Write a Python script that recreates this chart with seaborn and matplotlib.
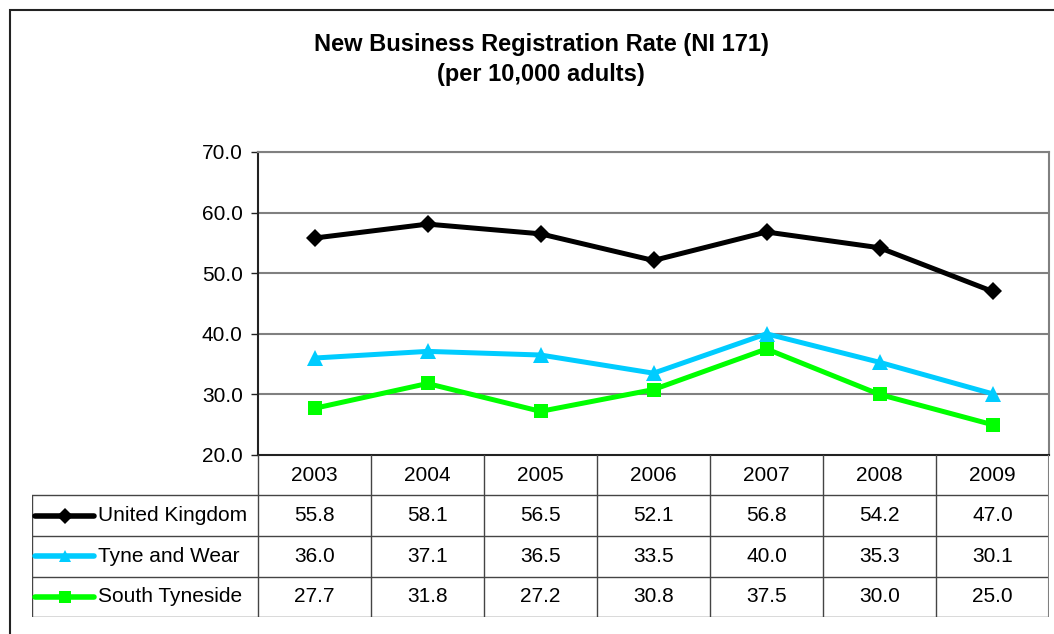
import matplotlib
matplotlib.use("Agg")
import matplotlib.pyplot as plt
import matplotlib.patches as mpatches
import seaborn as sns
import pandas as pd

years = ["2003", "2004", "2005", "2006", "2007", "2008", "2009"]
series_names = ["United Kingdom", "Tyne and Wear", "South Tyneside"]
uk = [55.8, 58.1, 56.5, 52.1, 56.8, 54.2, 47.0]
tyne_wear = [36.0, 37.1, 36.5, 33.5, 40.0, 35.3, 30.1]
south_tyneside = [27.7, 31.8, 27.2, 30.8, 37.5, 30.0, 25.0]
y_ticks = [20, 30, 40, 50, 60, 70]

colors = ["#000000", "#00CCFF", "#00FF00"]
markers = ["D", "^", "s"]
msizes = [9, 11, 10]

sns.set_style("white")
plt.rcParams["font.family"] = ["Liberation Sans", "DejaVu Sans"]
plt.rcParams["text.color"] = "black"
plt.rcParams["ytick.color"] = "black"

W, H = 1054, 634
fig = plt.figure(figsize=(W / 100, H / 100), dpi=100)


def px_axes(x0, y0, x1, y1):
    # pixel box (top-left origin) -> figure axes
    return fig.add_axes([x0 / W, 1 - y1 / H, (x1 - x0) / W, (y1 - y0) / H])


# outer frame
fig.patches.append(mpatches.Rectangle((10 / W, -0.1), 1.2, 1 - 10 / H + 0.1,
                                      transform=fig.transFigure, fill=False,
                                      edgecolor="#222222", lw=1.5))

fig.text(541 / W, 1 - 45 / H, "New Business Registration Rate (NI 171)",
         ha="center", va="center", fontsize=17, fontweight="bold")
fig.text(541 / W, 1 - 75 / H, "(per 10,000 adults)",
         ha="center", va="center", fontsize=17, fontweight="bold")

# main plot
ax = px_axes(258, 152, 1049, 455)
df = pd.DataFrame({"idx": list(range(len(years))) * 3,
                   "value": uk + tyne_wear + south_tyneside,
                   "series": sum([[s] * len(years) for s in series_names], [])})
for name, c, m, ms in zip(series_names, colors, markers, msizes):
    sns.lineplot(data=df[df["series"] == name], x="idx", y="value", ax=ax,
                 color=c, marker=m, markersize=ms, markeredgewidth=0,
                 lw=3.6, legend=False)

ax.set_xlim(-0.5, len(years) - 0.5)
ax.set_ylim(20, 70)
ax.set_yticks(y_ticks)
ax.set_yticklabels([f"{v:.1f}" for v in y_ticks], fontsize=15)
ax.set_xticks([])
ax.set_xlabel("")
ax.set_ylabel("")
ax.tick_params(axis="y", length=5, width=1, color="#222222", left=True, pad=6)
for v in y_ticks[1:]:
    ax.axhline(v, color="#808080", lw=1.5, zorder=0)
for s in ["left", "bottom"]:
    ax.spines[s].set_color("#222222")
    ax.spines[s].set_linewidth(1.5)
for s in ["top", "right"]:
    ax.spines[s].set_color("#808080")
    ax.spines[s].set_linewidth(1.5)

# data table
tax = px_axes(32, 455, 1049, 617)
tax.set_xlim(-2.5, len(years) - 0.5)
tax.set_ylim(4, 0)
tax.axis("off")
line_kw = dict(color="#444444", lw=1)
# vertical separators
for k in range(len(years) + 1):
    tax.plot([k - 0.5, k - 0.5], [0, 4], **line_kw)
tax.plot([-2.5, -2.5], [1, 4], **line_kw)
for r in [1, 2, 3, 4]:
    tax.plot([-2.5, len(years) - 0.5], [r, r], **line_kw)
tax.plot([len(years) - 0.5, len(years) - 0.5], [0, 4], color="#808080", lw=1.5)

for i, yr in enumerate(years):
    tax.text(i, 0.5, yr, ha="center", va="center", fontsize=15)

all_vals = [uk, tyne_wear, south_tyneside]
for r, (name, vals, c, m, ms) in enumerate(zip(series_names, all_vals, colors,
                                               markers, msizes)):
    yy = r + 1.5
    tax.plot([-2.47, -1.95], [yy, yy], color=c, lw=4, solid_capstyle="round")
    tax.plot([-2.21], [yy], marker=m, color=c, markersize=ms * 0.85, mew=0)
    tax.text(-1.92, yy, name, ha="left", va="center", fontsize=15)
    for i, v in enumerate(vals):
        tax.text(i, yy, f"{v:.1f}", ha="center", va="center", fontsize=15)

fig.savefig("out.png", dpi=100)
